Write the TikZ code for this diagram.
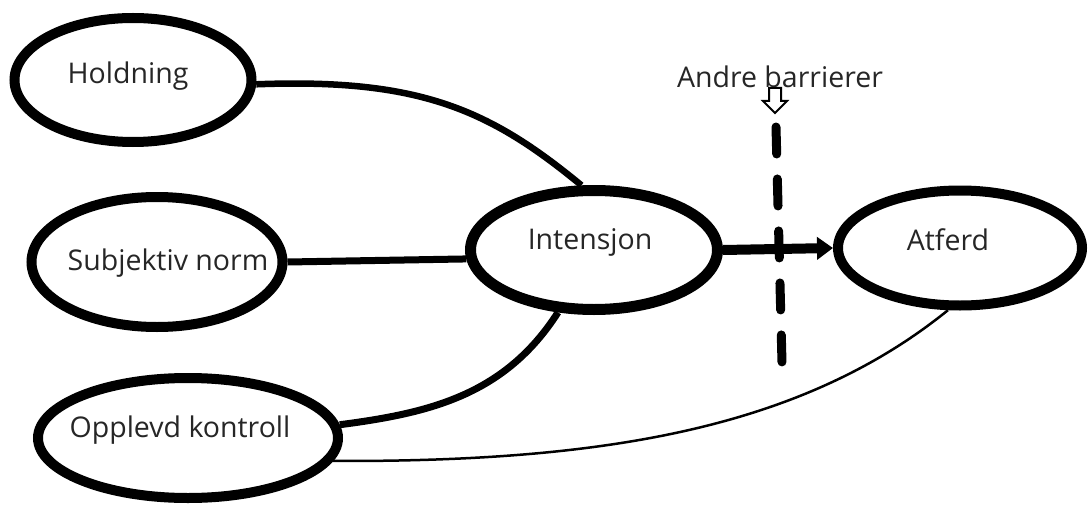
\documentclass[tikz,border=0pt]{standalone}
\usepackage{fontspec}
\setmainfont{Open Sans}
\usetikzlibrary{shapes.geometric,arrows.meta}
\tikzset{
  oval/.style={ellipse, draw=black, line width=10pt, fill=white, inner sep=0pt},
  lbl/.style={font=\fontsize{28.5}{32}\selectfont, text=black!85, inner sep=0pt},
  conn/.style={line width=7pt},
  thinconn/.style={line width=2.5pt},
}
\begin{document}
\begin{tikzpicture}[x=1pt,y=-1pt]
\useasboundingbox (0,0) rectangle (1089,508);
\node[oval, minimum width=237pt, minimum height=124pt] (hold) at (133,80) {};
\node[oval, minimum width=251pt, minimum height=130pt] (subj) at (157,262) {};
\node[oval, minimum width=300pt, minimum height=120pt] (opp) at (188,438) {};
\node[oval, line width=11pt, minimum width=247pt, minimum height=119pt] (int) at (594,250) {};
\node[oval, minimum width=244pt, minimum height=115pt] (atf) at (960,248) {};

\draw[line width=6.5pt] (hold.-2) .. controls (420,78) and (490,110) .. (int.101);
\draw[conn] (subj.east) -- (int.184);
\draw[conn] (int.240) .. controls (505,395) and (430,413) .. (opp.5);
\draw[thinconn] (opp.-9) .. controls (600,462) and (800,430) .. (atf.259);
\draw[line width=10pt, -{Triangle[length=16pt,width=22pt]}] (int.east) -- (atf.west);

\node[lbl] (tH) at (128,76) {Holdning};
\node[lbl] (tS) at (168,263) {Subjektiv norm};
\node[lbl] (tO) at (180,430) {Opplevd kontroll};
\node[lbl] (tI) at (590,242) {Intensjon};
\node[lbl] (tA) at (948,240) {Atferd};

\node[lbl] (bar) at (780,77) {Andre barrierer};
\coordinate (b1) at (776,127);
\coordinate (b2) at (782,363);
\draw[line width=9pt, line cap=round, dash pattern=on 27pt off 25pt] (b1) -- (b2);
\draw[line width=2pt, line join=miter, fill=white]
  (769,88) -- (781,88) -- (781,101) -- (787,101) -- (775,113) -- (763,101) -- (769,101) -- cycle;
\end{tikzpicture}
\end{document}
